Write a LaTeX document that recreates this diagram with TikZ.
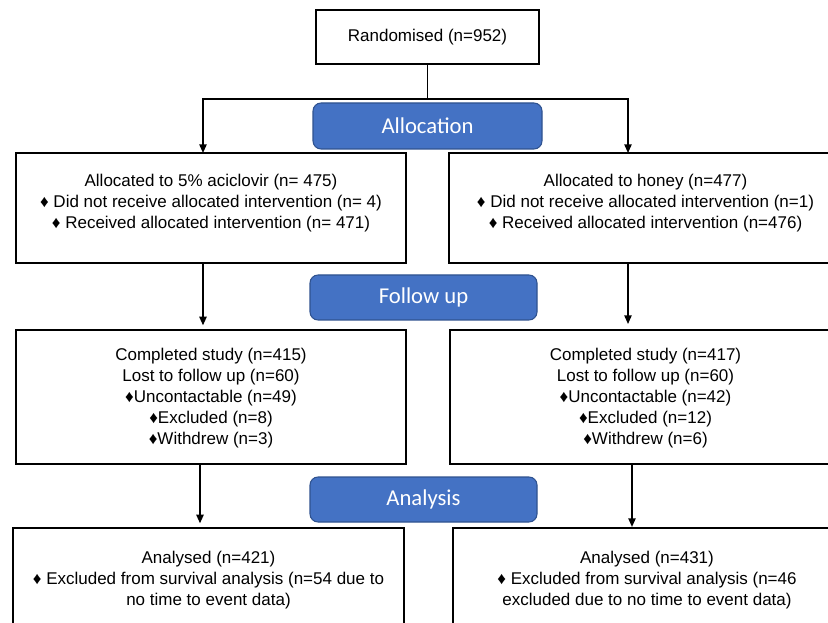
\documentclass[tikz,border=0pt]{standalone}
\usepackage{fontspec}
\setmainfont{Liberation Sans}
\newfontfamily\pillfont{Carlito}
\usetikzlibrary{arrows.meta}
\definecolor{pillblue}{HTML}{4472C4}
\definecolor{pilledge}{HTML}{2F528F}
\begin{document}
\begin{tikzpicture}[x=0.75pt,y=-0.75pt,
  box/.style={draw=black,line width=1.3pt,fill=white,rectangle,inner sep=0pt,outer sep=0pt},
  pill/.style={draw=pilledge,line width=0.8pt,fill=pillblue,rounded corners=6pt,inner sep=0pt,
    minimum width=170.25pt,minimum height=33.75pt,text=white,font=\pillfont\fontsize{17}{20}\selectfont},
  boxtext/.style={anchor=north,align=center,inner sep=0pt,font=\fontsize{12.75}{15.7}\selectfont},
  line/.style={draw=black,line width=1.1pt},
  arr/.style={line,-{Triangle[length=6.5pt,width=5.5pt]}}]
\useasboundingbox (0,0) rectangle (828,623);
\clip (0,0) rectangle (828,623);
% top
\node[box,minimum width=167.25pt,minimum height=40.5pt,font=\fontsize{12.75}{15.5}\selectfont] (rand) at (427.5,37) {Randomised (n=952)};
\node[pill,minimum width=171.75pt,minimum height=34.5pt] (alloc) at (427.5,126) {Allocation};
\node[pill] (follow) at (423.5,297.5) {Follow up};
\node[pill] (analysis) at (423.5,499.5) {Analysis};
% boxes
\node[box,minimum width=292.5pt,minimum height=82.5pt] (b1L) at (211,208) {};
\node[box,minimum width=294.75pt,minimum height=82.5pt] (b1R) at (645.5,208) {};
\node[box,minimum width=292.5pt,minimum height=100.5pt] (b2L) at (211,397) {};
\node[box,minimum width=293.25pt,minimum height=100.5pt] (b2R) at (645.5,397) {};
\node[box,minimum width=293.25pt,minimum height=105pt] (b3L) at (208.5,598) {};
\node[box,minimum width=291pt,minimum height=105pt] (b3R) at (647,598) {};
% texts
\node[boxtext] (t1L) at (211,174) {Allocated to 5\% aciclovir (n= 475)\\ ♦ Did not receive allocated intervention (n= 4)\\ ♦ Received allocated intervention (n= 471)};
\node[boxtext] (t1R) at (645.5,174) {Allocated to honey (n=477)\\ ♦ Did not receive allocated intervention (n=1)\\ ♦ Received allocated intervention (n=476)};
\node[boxtext] (t2L) at (211,348) {Completed study (n=415)\\Lost to follow up (n=60)\\♦Uncontactable (n=49)\\♦Excluded (n=8)\\♦Withdrew (n=3)};
\node[boxtext] (t2R) at (645.5,348) {Completed study (n=417)\\Lost to follow up (n=60)\\♦Uncontactable (n=42)\\♦Excluded (n=12)\\♦Withdrew (n=6)};
\node[boxtext] (t3L) at (208.5,551) {Analysed (n=421)\\ ♦ Excluded from survival analysis (n=54 due to\\no time to event data)};
\node[boxtext] (t3R) at (647,551) {Analysed (n=431)\\ ♦ Excluded from survival analysis (n=46\\excluded due to no time to event data)};
% connector coordinates
\coordinate (split) at (427.5,99);
\coordinate (xa) at (203,0);
\coordinate (xb) at (628,0);
\coordinate (xc) at (200,0);
\coordinate (xd) at (632,0);
\draw[line] (rand.south) -- (split);
\draw[arr] (split) -| (xa |- b1L.north);
\draw[arr] (split) -| (xb |- b1R.north);
\draw[arr,shorten >=3.5pt] (xa |- b1L.south) -- (xa |- b2L.north);
\draw[arr,shorten >=4.5pt] (xb |- b1R.south) -- (xb |- b2R.north);
\draw[arr,shorten >=3.5pt] (xc |- b2L.south) -- (xc |- b3L.north);
\draw[arr,shorten >=0.8pt] (xd |- b2R.south) -- (xd |- b3R.north);
\end{tikzpicture}
\end{document}
